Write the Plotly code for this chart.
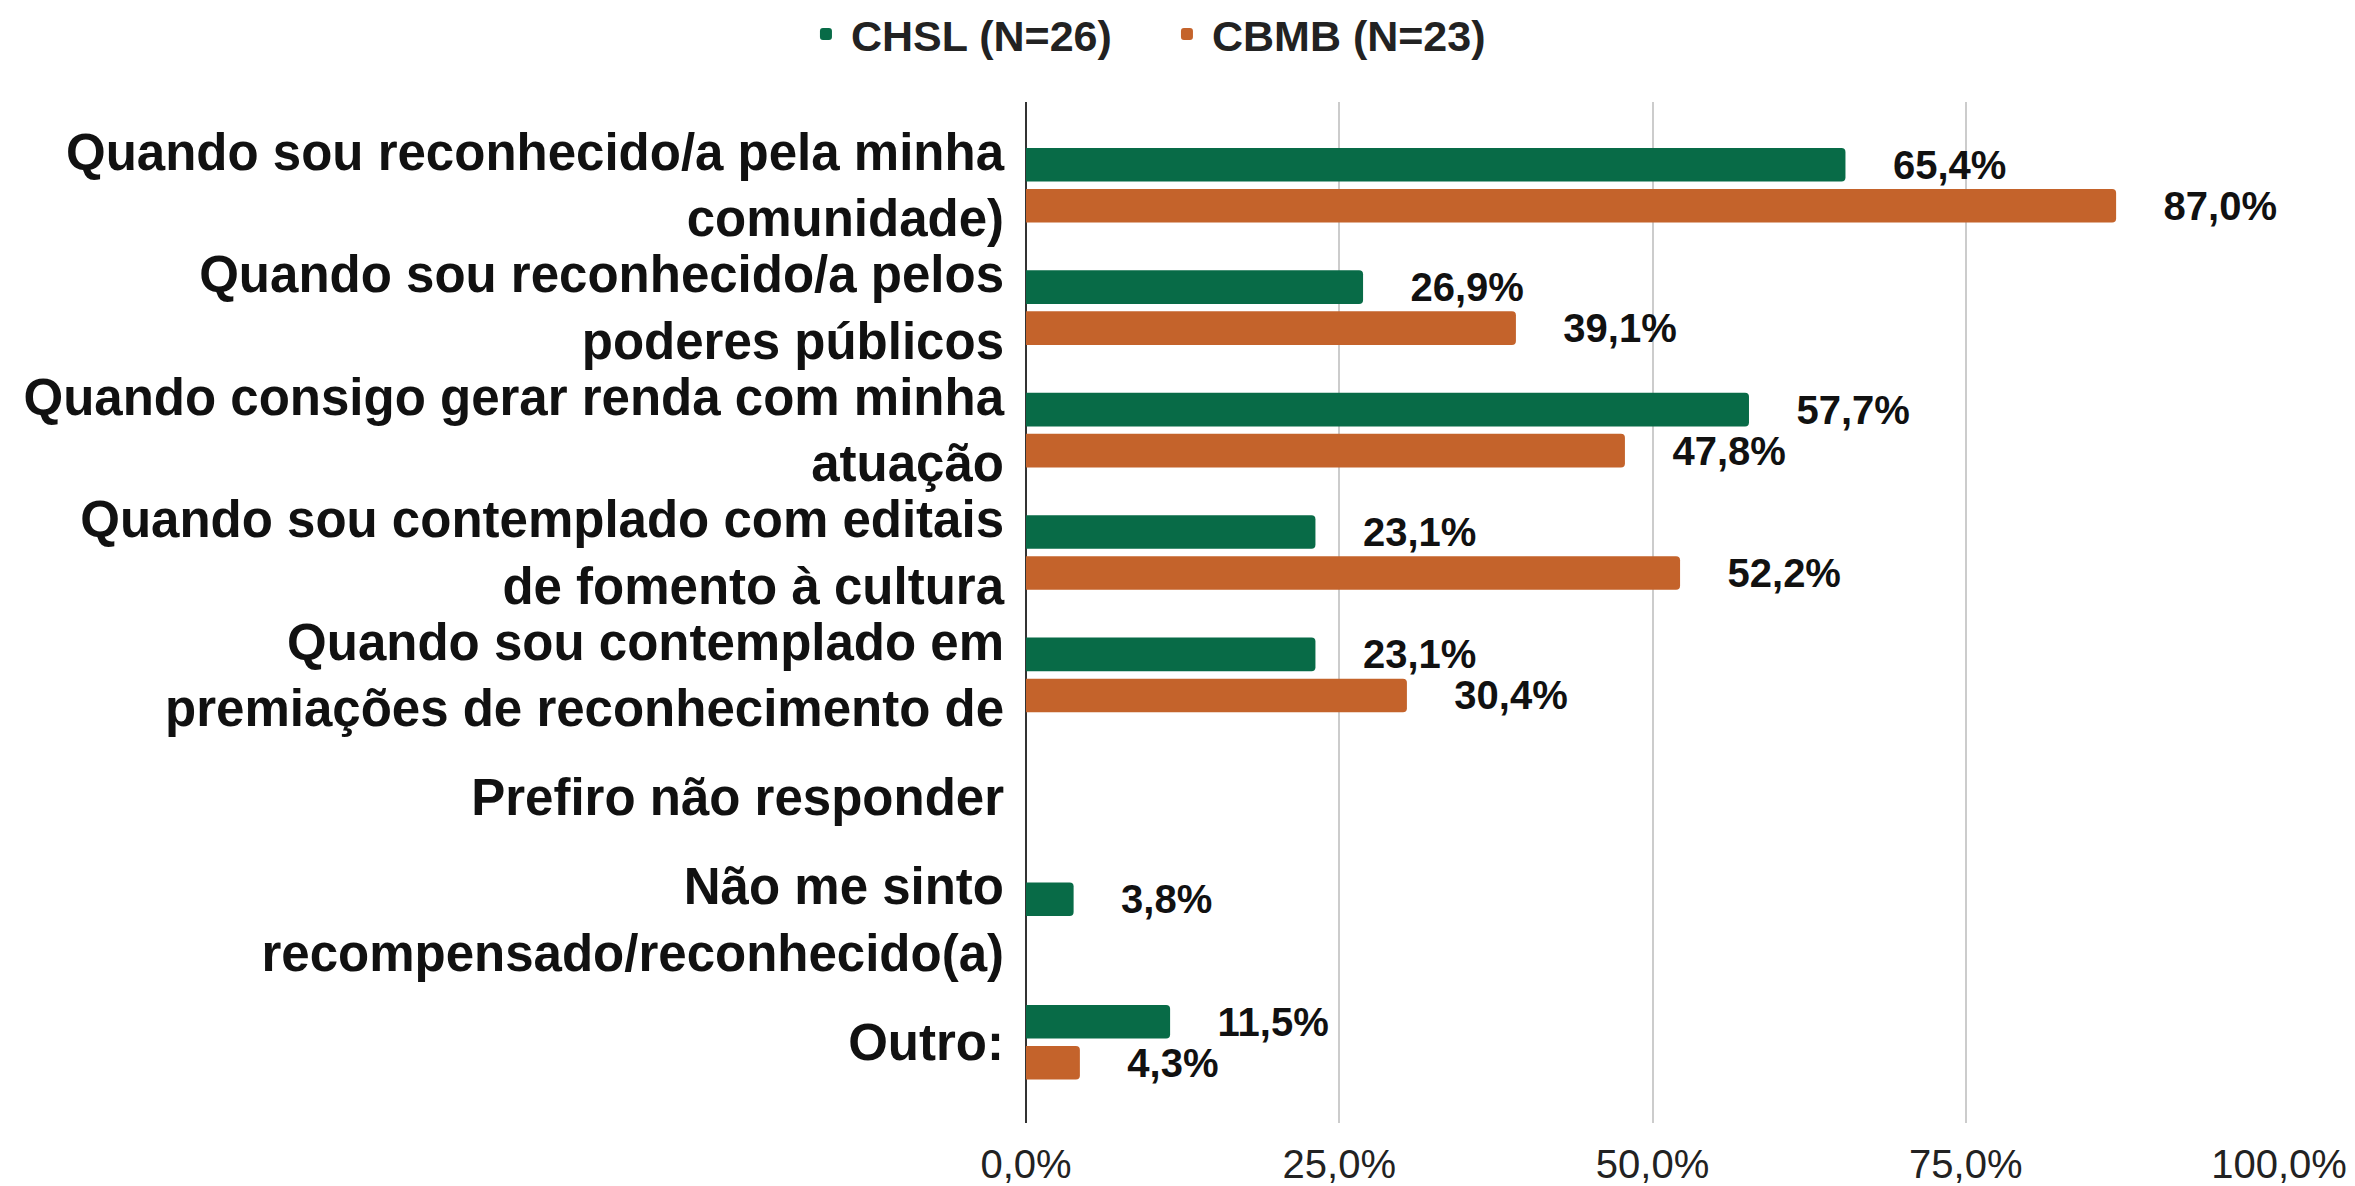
import plotly.graph_objects as go

categories = [
    "Quando sou reconhecido/a pela minha<br>comunidade)",
    "Quando sou reconhecido/a pelos<br>poderes públicos",
    "Quando consigo gerar renda com minha<br>atuação",
    "Quando sou contemplado com editais<br>de fomento à cultura",
    "Quando sou contemplado em<br>premiações de reconhecimento de",
    "Prefiro não responder",
    "Não me sinto<br>recompensado/reconhecido(a)",
    "Outro:",
]
chsl = [65.4, 26.9, 57.7, 23.1, 23.1, None, 3.8, 11.5]
cbmb = [87.0, 39.1, 47.8, 52.2, 30.4, None, None, 4.3]
series_names = ["CHSL (N=26)", "CBMB (N=23)"]
colors = ["#086b47", "#c4632b"]
tick_vals = [0, 25, 50, 75, 100]
tick_text = ["0,0%", "25,0%", "50,0%", "75,0%", "100,0%"]

FONT = "Liberation Sans, Arial, sans-serif"
pad = "\u00a0" * 4

fig = go.Figure()
for name, vals, col in zip(series_names, [chsl, cbmb], colors):
    fig.add_trace(go.Bar(
        y=categories, x=vals, name=name, orientation="h",
        marker=dict(color=col, cornerradius=4, line=dict(width=0)),
        texttemplate=pad + "%{x:.1f}%", textposition="outside",
        constraintext="none", cliponaxis=False,
        textfont=dict(family=FONT, size=40, color="#111111", weight="bold"),
    ))

fig.update_layout(
    width=2355, height=1186,
    paper_bgcolor="white", plot_bgcolor="white",
    barmode="group", bargap=0.33, bargroupgap=0.18,
    separators=",.",
    margin=dict(l=1018, r=84, t=94, b=71, autoexpand=False),
    font=dict(family=FONT, color="#222222"),
    legend=dict(
        orientation="h", xref="container", yref="container",
        x=0.49, xanchor="center", y=0.978, yanchor="middle",
        font=dict(family=FONT, size=43, color="#222222", weight="bold"),
        itemwidth=40, entrywidth=306, traceorder="normal",
    ),
    showlegend=True,
)
fig.update_xaxes(
    range=[0, 100], tickvals=tick_vals, ticktext=tick_text,
    showgrid=True, gridcolor="#cccccc", gridwidth=2,
    zeroline=True, zerolinecolor="#333333", zerolinewidth=2,
    showline=False, ticks="", ticklabelstandoff=14,
    tickfont=dict(family=FONT, size=40, color="#222222"),
)
fig.update_yaxes(
    categoryorder="array", categoryarray=categories,
    range=[7.66, -0.68], showgrid=False, showline=False, ticks="",
    ticklabelstandoff=21,
    tickfont=dict(family=FONT, size=51, color="#111111", weight="bold"),
)

fig.write_html("out.html")
